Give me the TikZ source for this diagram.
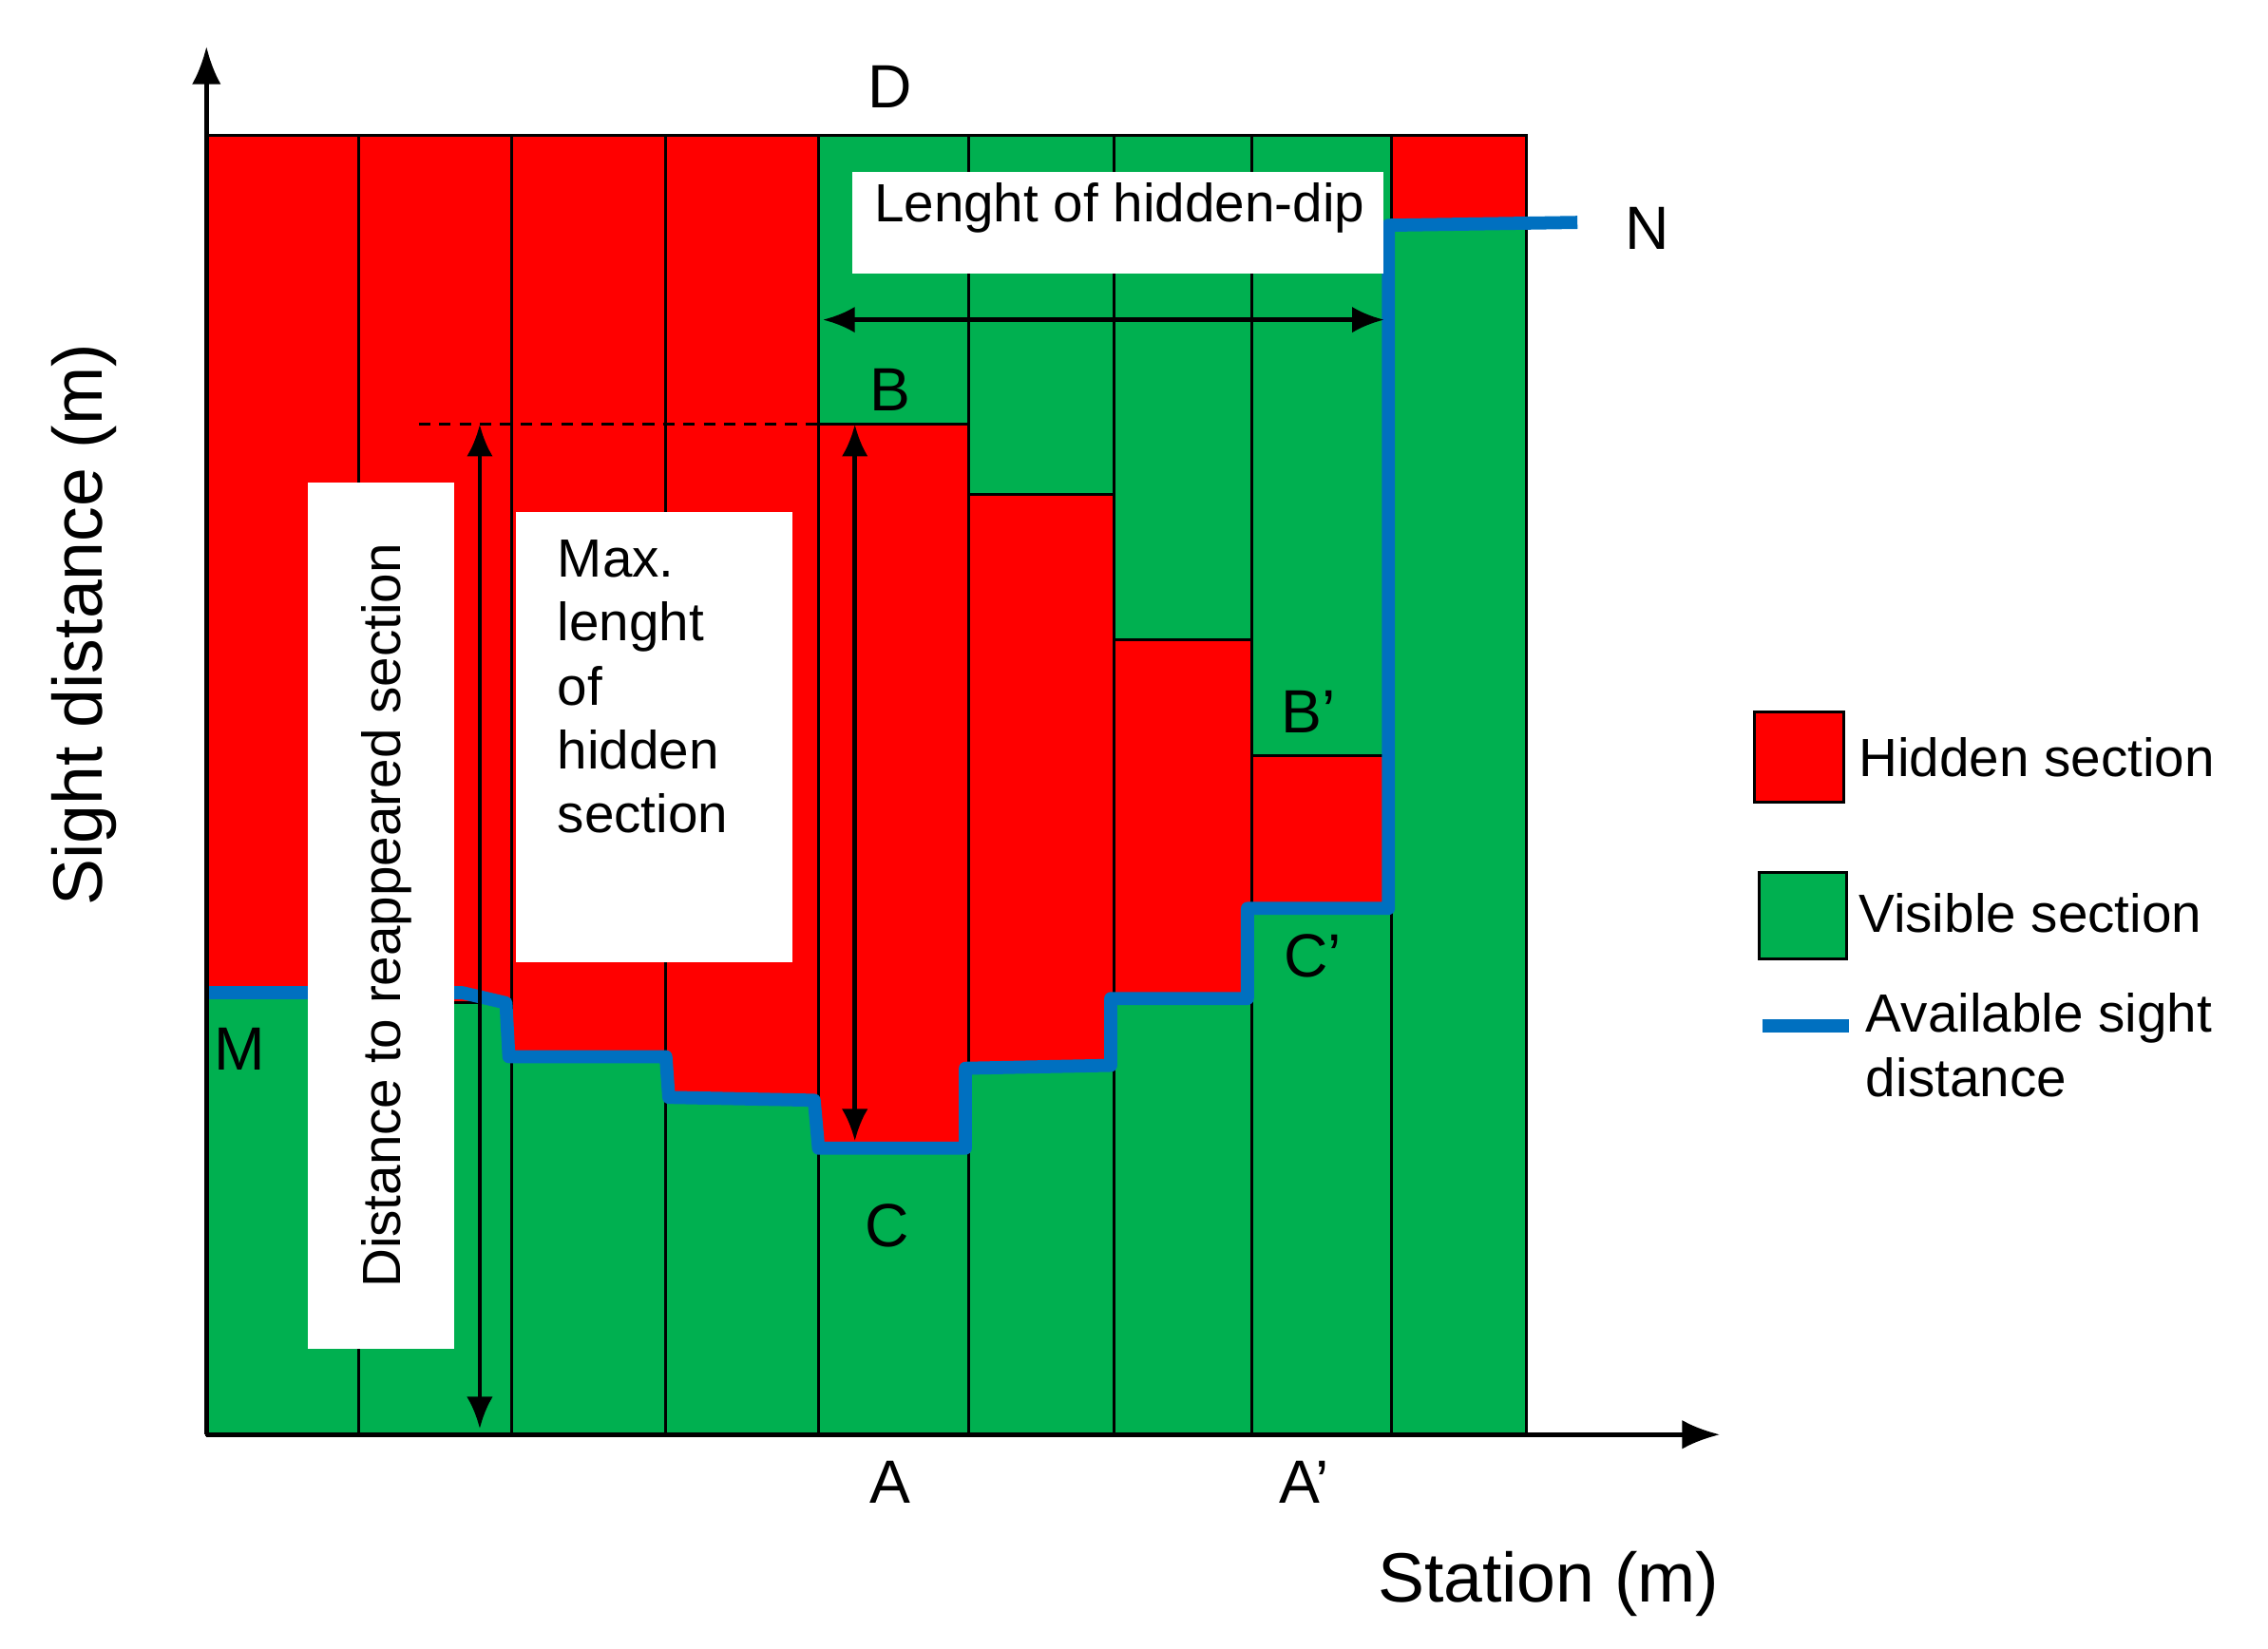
\documentclass[tikz,border=0pt]{standalone}
\usepackage{fontspec}
\setmainfont{Liberation Sans}
\usetikzlibrary{arrows.meta}
\definecolor{hid}{RGB}{255,0,0}
\definecolor{vis}{RGB}{0,176,80}
\definecolor{asd}{RGB}{0,112,192}
\begin{document}
\begin{tikzpicture}[x=1pt,y=-1pt,
  red/.style={fill=hid,draw=black,line width=2pt},
  grn/.style={fill=vis,draw=black,line width=2pt},
  wbox/.style={fill=white,draw=none},
  lab/.style={font=\fontsize{37}{40}\selectfont},
  let/.style={font=\fontsize{42}{44}\selectfont},
  arr/.style={-{Latex[length=26pt,width=20pt]},line width=3pt},
  dbl/.style={{Latex[length=22pt,width=18pt]}-{Latex[length=22pt,width=18pt]},line width=3pt}]
\useasboundingbox (0,0) rectangle (1560,1134);
\foreach \a/\b/\h in {142/247/683,247/352/690,352/458/727,458/563/755}{
  \draw[red] (\a,93) rectangle (\b,\h);
  \draw[grn] (\a,\h) rectangle (\b,987);}
\draw[grn] (563,93) rectangle (666,292);
\draw[red] (563,292) rectangle (666,790);
\draw[grn] (563,790) rectangle (666,987);
\draw[grn] (666,93) rectangle (766,340);
\draw[red] (666,340) rectangle (766,735);
\draw[grn] (666,735) rectangle (766,987);
\draw[grn] (766,93) rectangle (861,440);
\draw[red] (766,440) rectangle (861,687);
\draw[grn] (766,687) rectangle (861,987);
\draw[grn] (861,93) rectangle (957,520);
\draw[red] (861,520) rectangle (957,625);
\draw[grn] (861,625) rectangle (957,987);
\draw[red] (957,93) rectangle (1050,155);
\draw[grn] (957,155) rectangle (1050,987);
\draw[line width=9pt,color=asd,line join=round] (142,683)--(318,683)--(348,690)--(350,727)--(458,727)--(460,755)--(560,757)--(563,790)--(664,790)--(664,735)--(764,733)--(764,687)--(858,687)--(858,625)--(955,625)--(955,155)--(1085,153);
\coordinate (O) at (142,987);
\coordinate (Ytop) at (142,32);
\coordinate (Xend) at (1183,987);
\draw[arr] (O)--(Ytop);
\draw[arr] (O)--(Xend);
\node[wbox,minimum width=365pt,minimum height=70pt,inner sep=0pt] (lb) at (769,153) {};
\node[lab] at (770,143) {Lenght of hidden-dip};
\coordinate (h1) at (566,220); \coordinate (h2) at (952,220);
\draw[dbl] (h1)--(h2);
\draw[line width=2.2pt,dash pattern=on 8pt off 6pt] (288,292)--(563,292);
\node[wbox,minimum width=101pt,minimum height=596pt,inner sep=0pt] (db) at (262,630) {};
\node[lab,rotate=90] at (266,630) {Distance to reappeared section};
\coordinate (d1) at (330,292); \coordinate (d2) at (330,983);
\draw[dbl] (d1)--(d2);
\node[wbox,minimum width=190pt,minimum height=310pt,inner sep=0pt] (mb) at (450,507) {};
\node[lab,align=left,anchor=north west,font=\fontsize{37}{44}\selectfont] at (380,368) {Max.\\lenght\\of\\hidden\\section};
\coordinate (m1) at (588,292); \coordinate (m2) at (588,785);
\draw[dbl] (m1)--(m2);
\foreach \p/\t in {{(612,60)}/D,{(1133,157)}/N,{(165,722)}/M,{(612,268)}/B,{(610,843)}/C,{(900,490)}/B’,{(903,658)}/C’,{(612,1020)}/A,{(897,1020)}/A’}
  \node[let] at \p {\t};
\node[font=\fontsize{48}{52}\selectfont] at (1065,1090) {Station (m)};
\node[font=\fontsize{48}{52}\selectfont,rotate=90] at (58,430) {Sight distance (m)};
\draw[red] (1207,490) rectangle (1268,552);
\draw[grn] (1210,600) rectangle (1270,660);
\draw[line width=9pt,color=asd] (1212,706)--(1272,706);
\node[lab,anchor=west] at (1275,521) {Hidden section};
\node[lab,anchor=west] at (1275,628) {Visible section};
\node[lab,anchor=north west,align=left,font=\fontsize{37}{44}\selectfont] at (1280,680) {Available sight\\distance};
\end{tikzpicture}
\end{document}
